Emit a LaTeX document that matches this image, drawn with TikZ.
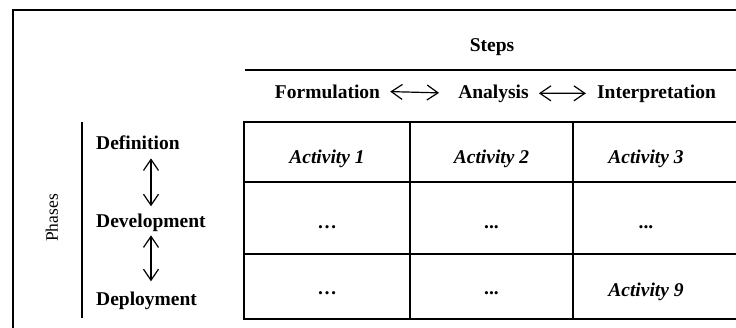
\documentclass[tikz,border=0pt]{standalone}
\usepackage{fontspec}
\setmainfont{Liberation Serif}
\usetikzlibrary{arrows.meta}
\tikzset{
  lbl/.style={inner sep=0pt, font=\fontsize{19.5}{23}\selectfont\bfseries},
  act/.style={inner sep=0pt, font=\fontsize{19.5}{23}\selectfont\bfseries\itshape},
  dotlbl/.style={inner sep=0pt, font=\fontsize{19.5}{23}\selectfont\bfseries},
  cell/.style={draw, line width=1.5pt, inner sep=0pt},
  rule/.style={line width=1.5pt},
  dar/.style={line width=1.2pt, {Straight Barb[length=11pt,width=15pt]}-{Straight Barb[length=11pt,width=15pt]}},
}
\begin{document}
\begin{tikzpicture}[x=1pt,y=-1pt]
\useasboundingbox (0,0) rectangle (736,327);
\clip (0,0) rectangle (736,327);
% outer frame
\draw[rule] (13,340) -- (13,10) -- (750,10);
% steps header
\node[lbl, anchor=base] (steps) at (492,51) {Steps};
\draw[rule] (245,70) -- (750,70);
\node[lbl, anchor=base] (form) at (327.5,98) {Formulation};
\node[lbl, anchor=base] (anal) at (493.5,98) {Analysis};
\node[lbl, anchor=base] (interp) at (656.5,98) {Interpretation};
\draw[dar, shorten <=10pt, shorten >=19pt] (form.east) -- (anal.west);
\draw[dar, shorten <=10pt, shorten >=11pt] (anal.east) -- (interp.west);
% phases
\node[inner sep=0pt, rotate=90, font=\fontsize{17.5}{20}\selectfont] (phases) at (52,218) {Phases};
\draw[rule] (82,122) -- (82,318);
\node[lbl, anchor=base west] (def) at (96,149) {Definition};
\node[lbl, anchor=base west] (dev) at (96,227) {Development};
\node[lbl, anchor=base west] (dep) at (96,305) {Deployment};
\coordinate (ax) at (151,0);
\draw[dar, shorten <=9pt, shorten >=7pt] (def.south -| ax) -- (dev.north -| ax);
\draw[dar, shorten <=4pt, shorten >=10pt] (dev.south -| ax) -- (dep.north -| ax);
% table cells
\node[cell, minimum width=166, minimum height=60] (c11) at (327,152) {};
\node[cell, minimum width=163, minimum height=60] (c12) at (491.5,152) {};
\node[cell, minimum width=164, minimum height=60] (c13) at (655,152) {};
\node[cell, minimum width=166, minimum height=72] (c21) at (327,218) {};
\node[cell, minimum width=163, minimum height=72] (c22) at (491.5,218) {};
\node[cell, minimum width=164, minimum height=72] (c23) at (655,218) {};
\node[cell, minimum width=166, minimum height=65] (c31) at (327,286.5) {};
\node[cell, minimum width=163, minimum height=65] (c32) at (491.5,286.5) {};
\node[cell, minimum width=164, minimum height=65] (c33) at (655,286.5) {};
% cell texts
\node[act, anchor=base] (t11) at (c11.center |- 0,163) {Activity 1};
\node[act, anchor=base] (t12) at (c12.center |- 0,163) {Activity 2};
\node[act, anchor=base] (t13) at (646,163) {Activity 3};
\node[dotlbl, anchor=base] (t21) at (c21.center |- 0,228) {\dots};
\node[dotlbl, anchor=base] (t22) at (c22.center |- 0,228) {...};
\node[dotlbl, anchor=base] (t23) at (646,228) {...};
\node[dotlbl, anchor=base] (t31) at (c31.center |- 0,294) {\dots};
\node[dotlbl, anchor=base] (t32) at (c32.center |- 0,294) {...};
\node[act, anchor=base] (t33) at (646,296) {Activity 9};
\end{tikzpicture}
\end{document}
